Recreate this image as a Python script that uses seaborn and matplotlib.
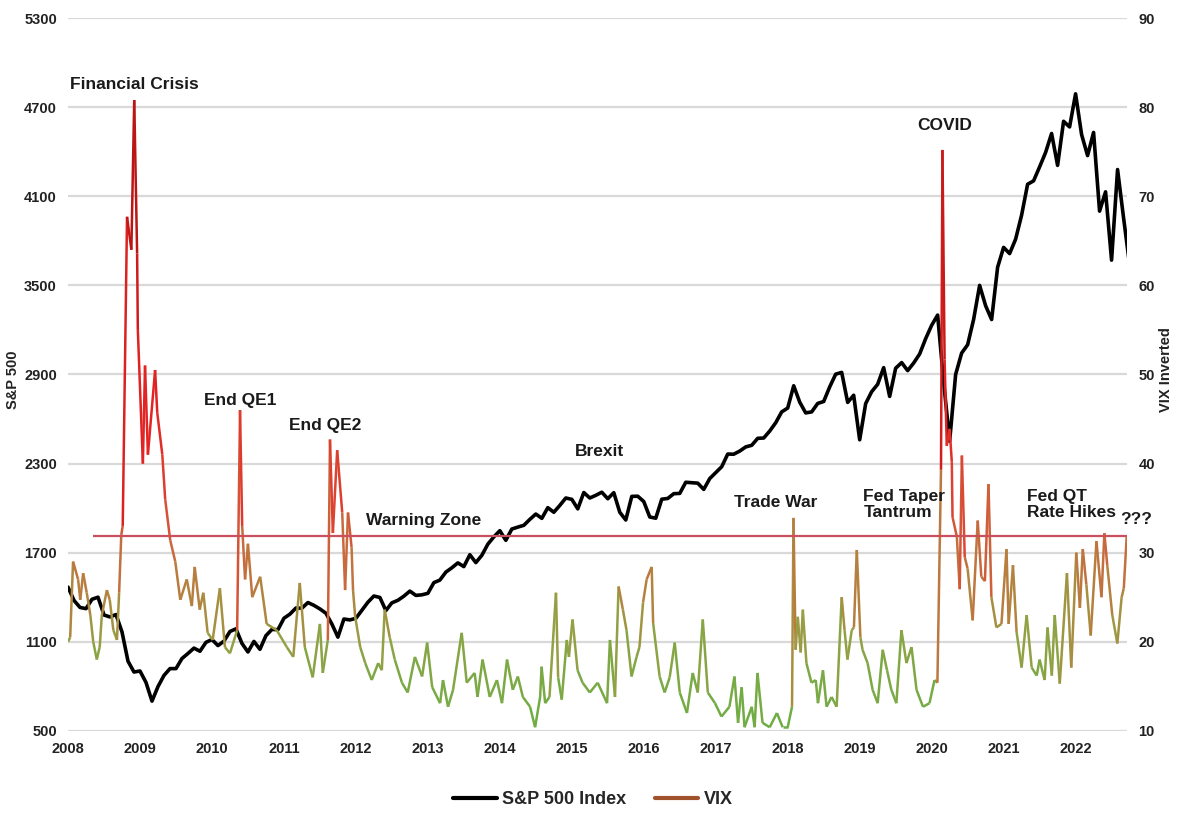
import numpy as np
import seaborn as sns
import matplotlib.pyplot as plt
from matplotlib.collections import LineCollection
from matplotlib.colors import LinearSegmentedColormap, Normalize
from matplotlib.lines import Line2D

# S&P 500, month-end values from Jan 2008 start to Sep 2022
sp_values = [
    1468, 1378, 1331, 1323, 1386, 1400, 1280, 1267, 1283, 1166, 969, 896, 903,
    826, 700, 798, 873, 919, 919, 987, 1021, 1057, 1036, 1096, 1115,
    1074, 1104, 1169, 1187, 1089, 1031, 1102, 1049, 1141, 1183, 1181, 1258,
    1286, 1327, 1326, 1364, 1345, 1321, 1292, 1219, 1131, 1253, 1247, 1258,
    1312, 1366, 1408, 1398, 1310, 1362, 1379, 1407, 1441, 1412, 1416, 1426,
    1498, 1515, 1569, 1598, 1631, 1606, 1686, 1633, 1682, 1757, 1806, 1848,
    1783, 1859, 1872, 1884, 1924, 1960, 1931, 2003, 1972, 2018, 2068, 2059,
    1995, 2105, 2068, 2086, 2107, 2063, 2104, 1972, 1920, 2079, 2080, 2044,
    1940, 1932, 2060, 2065, 2097, 2099, 2174, 2171, 2168, 2126, 2199, 2239,
    2279, 2364, 2363, 2384, 2412, 2423, 2470, 2472, 2519, 2575, 2648, 2674,
    2824, 2714, 2641, 2648, 2705, 2718, 2816, 2902, 2914, 2712, 2760, 2460,
    2704, 2784, 2834, 2946, 2752, 2942, 2980, 2926, 2977, 3038, 3141, 3231,
    3300, 2850, 2450, 2900, 3044, 3100, 3271, 3500, 3363, 3270, 3622, 3756,
    3714, 3811, 3973, 4181, 4204, 4298, 4395, 4523, 4308, 4605, 4567, 4790,
    4516, 4374, 4530, 4000, 4130, 3670, 4280, 3955, 3641,
]
sp_years = 2008 + np.arange(len(sp_values)) / 12

# VIX (decimal year, level)
vix_years = [
    2008.00, 2008.03, 2008.07, 2008.14, 2008.17, 2008.21, 2008.26, 2008.31, 2008.35, 2008.40,
    2008.44, 2008.47, 2008.54, 2008.58, 2008.63, 2008.68, 2008.71, 2008.74, 2008.76, 2008.82,
    2008.88, 2008.92, 2008.96, 2008.97, 2009.04, 2009.07, 2009.11, 2009.21, 2009.24, 2009.31,
    2009.35, 2009.42, 2009.49, 2009.56, 2009.65, 2009.72, 2009.76, 2009.83, 2009.88, 2009.94,
    2010.01, 2010.11, 2010.18, 2010.25, 2010.35, 2010.39, 2010.42, 2010.46, 2010.50, 2010.56,
    2010.67, 2010.76, 2010.90, 2011.04, 2011.13, 2011.22, 2011.29, 2011.40, 2011.50, 2011.54,
    2011.61, 2011.64, 2011.68, 2011.74, 2011.81, 2011.85, 2011.89, 2011.94, 2011.96, 2011.99,
    2012.06, 2012.13, 2012.22, 2012.31, 2012.36, 2012.40, 2012.47, 2012.54, 2012.64, 2012.72,
    2012.82, 2012.92, 2012.99, 2013.06, 2013.17, 2013.21, 2013.28, 2013.35, 2013.47, 2013.54,
    2013.65, 2013.69, 2013.76, 2013.86, 2013.96, 2014.03, 2014.10, 2014.18, 2014.25, 2014.32,
    2014.42, 2014.49, 2014.56, 2014.58, 2014.63, 2014.69, 2014.78, 2014.81, 2014.86, 2014.93,
    2014.96, 2015.01, 2015.08, 2015.15, 2015.25, 2015.36, 2015.49, 2015.53, 2015.60, 2015.65,
    2015.71, 2015.76, 2015.83, 2015.90, 2015.94, 2015.99, 2016.04, 2016.11, 2016.13, 2016.22,
    2016.29, 2016.36, 2016.43, 2016.50, 2016.60, 2016.68, 2016.75, 2016.82, 2016.89, 2016.99,
    2017.08, 2017.19, 2017.26, 2017.31, 2017.36, 2017.40, 2017.50, 2017.54, 2017.58, 2017.65,
    2017.75, 2017.85, 2017.93, 2018.00, 2018.06, 2018.08, 2018.11, 2018.14, 2018.18, 2018.21,
    2018.26, 2018.33, 2018.39, 2018.42, 2018.49, 2018.54, 2018.61, 2018.68, 2018.75, 2018.79,
    2018.83, 2018.89, 2018.92, 2018.96, 2019.01, 2019.04, 2019.11, 2019.18, 2019.25, 2019.32,
    2019.38, 2019.44, 2019.51, 2019.58, 2019.65, 2019.72, 2019.79, 2019.88, 2019.97, 2020.04,
    2020.08, 2020.13, 2020.15, 2020.18, 2020.21, 2020.25, 2020.28, 2020.29, 2020.35, 2020.39,
    2020.42, 2020.46, 2020.50, 2020.57, 2020.64, 2020.69, 2020.74, 2020.79, 2020.83, 2020.90,
    2020.97, 2021.04, 2021.07, 2021.13, 2021.18, 2021.25, 2021.32, 2021.39, 2021.46, 2021.50,
    2021.57, 2021.61, 2021.67, 2021.71, 2021.78, 2021.88, 2021.94, 2022.01, 2022.06, 2022.10,
    2022.15, 2022.21, 2022.29, 2022.36, 2022.40, 2022.44, 2022.51, 2022.58, 2022.64, 2022.67,
    2022.71,
]
vix_values = [
    20.0, 20.5, 29.0, 27.0, 24.7, 27.7, 25.5, 23.0, 20.0, 18.0,
    19.4, 23.0, 25.8, 24.7, 21.3, 20.2, 25.5, 32.0, 33.0, 67.7,
    64.0, 80.8, 63.6, 55.0, 40.0, 51.0, 41.0, 50.5, 45.7, 41.0,
    36.0, 31.4, 29.0, 24.7, 27.0, 24.0, 28.4, 23.6, 25.5, 21.0,
    20.2, 26.0, 19.4, 18.7, 21.3, 46.0, 33.0, 27.0, 31.0, 25.0,
    27.3, 22.0, 21.3, 19.4, 18.3, 26.6, 19.4, 16.0, 22.0, 16.5,
    20.2, 42.7, 32.2, 41.5, 34.5, 25.8, 34.5, 30.6, 25.8, 22.8,
    19.4, 17.6, 15.7, 17.6, 16.8, 23.6, 20.5, 18.0, 15.4, 14.3,
    18.3, 16.1, 19.9, 14.9, 13.1, 15.7, 12.7, 14.6, 21.0, 15.4,
    16.5, 13.8, 18.0, 13.8, 15.7, 13.1, 18.0, 14.6, 16.1, 13.8,
    12.7, 10.4, 13.8, 17.2, 13.1, 13.8, 25.5, 16.0, 13.5, 20.2,
    18.3, 22.5, 16.8, 15.4, 14.3, 15.4, 13.1, 20.2, 13.8, 26.2,
    23.6, 21.3, 16.1, 18.3, 19.4, 24.4, 27.0, 28.4, 22.1, 16.1,
    14.3, 16.0, 19.9, 14.3, 12.0, 16.5, 14.3, 22.5, 14.3, 13.1,
    11.6, 12.7, 16.1, 10.9, 14.9, 10.4, 12.7, 10.4, 16.5, 10.9,
    10.4, 12.0, 10.4, 10.4, 12.7, 33.9, 19.1, 22.8, 18.8, 23.6,
    17.6, 15.4, 15.7, 13.1, 16.8, 12.7, 13.8, 12.7, 25.0, 21.3,
    18.0, 21.3, 21.6, 30.3, 20.5, 19.1, 17.6, 14.6, 13.1, 19.1,
    16.8, 14.6, 13.1, 21.3, 17.6, 19.4, 14.6, 12.7, 13.1, 15.7,
    15.4, 39.3, 75.2, 51.7, 42.0, 43.9, 40.2, 34.0, 31.8, 25.9,
    40.9, 29.5, 28.2, 22.4, 33.6, 27.3, 26.8, 37.7, 25.0, 21.6,
    22.0, 30.4, 22.0, 28.6, 21.1, 17.1, 23.0, 17.1, 16.2, 18.0,
    15.7, 21.6, 16.2, 23.0, 15.3, 27.7, 17.1, 30.0, 23.8, 30.4,
    26.4, 20.7, 31.3, 25.0, 32.2, 28.6, 23.0, 19.8, 25.0, 26.0,
    31.8,
]

warning_level = 31.9
warning_start = 2008.35

year_ticks = list(range(2008, 2023))
sp_ticks = list(range(500, 5301, 600))
vix_ticks = list(range(10, 91, 10))

annotations = [
    ("Financial Crisis", 2008.03, 82.5, "left"),
    ("End QE1", 2010.39, 47.1, "center"),
    ("End QE2", 2011.58, 44.3, "center"),
    ("Warning Zone", 2012.14, 33.6, "left"),
    ("Brexit", 2015.39, 41.3, "center"),
    ("Trade War", 2017.83, 35.6, "center"),
    ("Fed Taper\nTantrum", 2019.05, 35.4, "left"),
    ("COVID", 2020.18, 78.0, "center"),
    ("Fed QT\nRate Hikes", 2021.33, 35.4, "left"),
    ("???", 2022.62, 33.7, "left"),
]

sns.set_theme(style="white")
plt.rcParams["font.family"] = ["Liberation Sans", "DejaVu Sans"]
plt.rcParams["font.weight"] = "bold"

fig = plt.figure(figsize=(11.83, 8.23), dpi=100)
ax = fig.add_axes([0.0575, 0.112, 0.8955, 0.866])
ax2 = ax.twinx()

# S&P 500 line
sns.lineplot(x=sp_years, y=sp_values, ax=ax, color="black", linewidth=2.6)

# VIX line coloured by level (green -> brown -> red)
vix_cmap = LinearSegmentedColormap.from_list(
    "vix",
    [(0.0, "#6cae44"), (0.1, "#7fa845"), (0.143, "#94a044"), (0.214, "#b2843f"),
     (0.286, "#c86a3d"), (0.357, "#da4a34"), (0.5, "#e32524"), (1.0, "#b01010")],
)
pts = np.column_stack([vix_years, vix_values])
segs = np.stack([pts[:-1], pts[1:]], axis=1)
mid = (np.array(vix_values[:-1]) + np.array(vix_values[1:])) / 2
lc = LineCollection(segs, cmap=vix_cmap, norm=Normalize(10, 80), linewidth=1.8)
lc.set_array(mid)
ax2.add_collection(lc)

ax2.hlines(warning_level, warning_start, vix_years[-1], color="#c9505c", linewidth=1.6)

for text, x, y, ha in annotations:
    ax2.text(x, y, text, ha=ha, va="center", fontsize=12.5, fontweight="bold",
             color="#1a1a1a", linespacing=1.15)

ax.set_xlim(2008, 2022.72)
ax.set_ylim(500, 5300)
ax2.set_ylim(10, 90)
ax.set_xticks(year_ticks)
ax.set_xticklabels([str(y) for y in year_ticks], fontsize=10.5, fontweight="bold")
ax.set_yticks(sp_ticks)
ax.set_yticklabels([str(v) for v in sp_ticks], fontsize=10.5, fontweight="bold")
ax2.set_yticks(vix_ticks)
ax2.set_yticklabels([str(v) for v in vix_ticks], fontsize=10.5, fontweight="bold")
ax.set_xlabel("")
ax.set_ylabel("")
ax.yaxis.grid(True, color="#d9d9d9", linewidth=1.6)
ax.set_axisbelow(True)
for a in (ax, ax2):
    for s in a.spines.values():
        s.set_visible(False)
    a.tick_params(length=0, colors="#222222")
ax.tick_params(axis="x", pad=8)
ax.tick_params(axis="y", pad=8)
ax2.tick_params(axis="y", pad=8)

fig.text(13 / 1183, 1 - 380 / 823, "S&P 500", rotation=90, ha="center", va="center",
         fontsize=10.5, fontweight="bold", color="#222222")
fig.text(1166 / 1183, 1 - 370 / 823, "VIX Inverted", rotation=90, ha="center", va="center",
         fontsize=10.5, fontweight="bold", color="#222222")

handles = [Line2D([], [], color="black", linewidth=3),
           Line2D([], [], color="#a0522d", linewidth=3)]
fig.legend(handles, ["S&P 500 Index", "VIX"], loc="center",
           bbox_to_anchor=(593 / 1183, 1 - 800 / 823), ncol=2, frameon=False,
           fontsize=13, handlelength=2.4, handletextpad=0.3, columnspacing=1.6)

fig.savefig("out.png", dpi=100)
